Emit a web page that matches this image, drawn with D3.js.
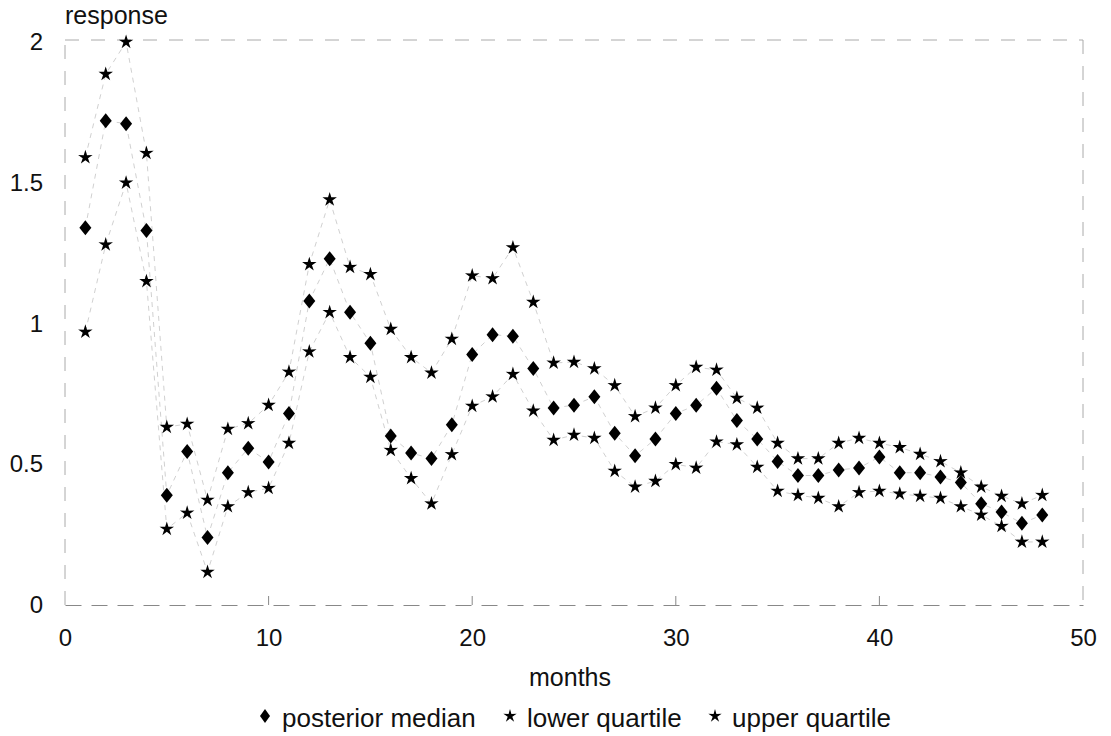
<!DOCTYPE html>
<html>
<head>
<meta charset="utf-8">
<script src="https://cdn.jsdelivr.net/npm/d3@7"></script>
<style>
  body { margin: 0; background: #fff; }
  text { font-family: "Liberation Sans", Arial, sans-serif; fill: #111; }
</style>
</head>
<body>
<div id="chart"></div>
<script>
const months = d3.range(1, 49);
const median = [1.34, 1.72, 1.71, 1.33, 0.39, 0.545, 0.24, 0.47, 0.557, 0.508,
  0.68, 1.08, 1.23, 1.04, 0.93, 0.60, 0.54, 0.52, 0.64, 0.89,
  0.96, 0.955, 0.84, 0.70, 0.71, 0.74, 0.61, 0.53, 0.59, 0.68,
  0.71, 0.77, 0.655, 0.59, 0.51, 0.46, 0.46, 0.48, 0.487, 0.526,
  0.47, 0.47, 0.455, 0.435, 0.36, 0.33, 0.29, 0.32];
const lowerQ = [0.97, 1.28, 1.50, 1.15, 0.27, 0.327, 0.117, 0.35, 0.40, 0.415,
  0.575, 0.90, 1.04, 0.88, 0.81, 0.55, 0.45, 0.36, 0.535, 0.707,
  0.74, 0.82, 0.69, 0.586, 0.604, 0.593, 0.476, 0.42, 0.44, 0.50,
  0.487, 0.58, 0.57, 0.49, 0.405, 0.39, 0.38, 0.35, 0.40, 0.405,
  0.395, 0.387, 0.38, 0.35, 0.32, 0.28, 0.224, 0.224];
const upperQ = [1.59, 1.886, 2.0, 1.605, 0.632, 0.643, 0.373, 0.625, 0.645, 0.71,
  0.828, 1.21, 1.44, 1.20, 1.175, 0.98, 0.88, 0.825, 0.945, 1.17,
  1.16, 1.27, 1.076, 0.86, 0.863, 0.84, 0.78, 0.67, 0.70, 0.78,
  0.845, 0.835, 0.735, 0.70, 0.575, 0.52, 0.52, 0.575, 0.593, 0.575,
  0.56, 0.536, 0.51, 0.47, 0.42, 0.387, 0.36, 0.39];
const xTicks = [0, 10, 20, 30, 40, 50];
const yTicks = [0, 0.5, 1, 1.5, 2];
const legendLabels = ["posterior median", "lower quartile", "upper quartile"];

const width = 1111, height = 736;
const margin = { top: 42, right: 28, bottom: 131, left: 65 };
const fontSize = '24px';

const x = d3.scaleLinear().domain([0, 50]).range([margin.left, width - margin.right]);
const y = d3.scaleLinear().domain([0, 2]).range([height - margin.bottom, margin.top]);

const svg = d3.select('#chart').append('svg')
  .attr('width', width)
  .attr('height', height);

// star and diamond glyphs
function starPath(R, r) {
  const pts = d3.range(10).map(i => {
    const a = -Math.PI / 2 + i * Math.PI / 5;
    const rad = i % 2 ? r : R;
    return [rad * Math.cos(a), rad * Math.sin(a)];
  });
  return 'M' + pts.join('L') + 'Z';
}
function diamondPath(w, h) {
  return `M0,${-h}L${w},0L0,${h}L${-w},0Z`;
}

// dashed frame
const x0 = x(0), x1 = x(50), y0 = y(0), y1 = y(2) - 2;
svg.append('path')
  .attr('d', `M${x0},${y0}L${x0},${y1}M${x0},${y1}L${x1},${y1}M${x1},${y1}L${x1},${y0}`)
  .attr('fill', 'none')
  .attr('stroke', '#aaa')
  .attr('stroke-width', 1)
  .attr('stroke-dasharray', '14,12');

// x axis line with inward ticks
const xAxis = d3.axisBottom(x).tickValues(xTicks).tickSize(0).tickPadding(24);
const gx = svg.append('g').attr('transform', `translate(0,${y0})`).call(xAxis);
gx.select('.domain').attr('stroke', '#888').attr('stroke-dasharray', '16,10');
gx.selectAll('text').style('font-size', fontSize).attr('fill', '#111');
svg.selectAll('.xtick').data(xTicks.slice(1, -1)).join('line')
  .attr('x1', d => x(d)).attr('x2', d => x(d))
  .attr('y1', y0).attr('y2', y0 - 9)
  .attr('stroke', '#888');

// y axis labels
const yAxis = d3.axisLeft(y).tickValues(yTicks).tickSize(0).tickPadding(22)
  .tickFormat(d3.format('~g'));
const gy = svg.append('g').attr('transform', `translate(${x0},0)`).call(yAxis);
gy.select('.domain').remove();
gy.selectAll('text').style('font-size', fontSize).attr('fill', '#111');

svg.append('text')
  .attr('x', x0).attr('y', 24)
  .style('font-size', '25px')
  .text('response');

svg.append('text')
  .attr('x', 570).attr('y', 686)
  .attr('text-anchor', 'middle')
  .style('font-size', '25px')
  .text('months');

// faint connecting lines
const line = d3.line().x((d, i) => x(months[i])).y(d => y(d));
[median, lowerQ, upperQ].forEach(s => {
  svg.append('path')
    .datum(s)
    .attr('d', line)
    .attr('fill', 'none')
    .attr('stroke', '#bbb')
    .attr('stroke-width', 0.7)
    .attr('stroke-dasharray', '5,5');
});

// markers
const star = starPath(7.6, 2.8);
const diamond = diamondPath(6, 7.5);
[lowerQ, upperQ].forEach(s => {
  svg.append('g').selectAll('path').data(s).join('path')
    .attr('transform', (d, i) => `translate(${x(months[i])},${y(d)})`)
    .attr('d', star)
    .attr('fill', '#000');
});
svg.append('g').selectAll('path').data(median).join('path')
  .attr('transform', (d, i) => `translate(${x(months[i])},${y(d)})`)
  .attr('d', diamond)
  .attr('fill', '#000');

// legend
const legendX = [265, 510, 715];
const lg = svg.append('g');
legendLabels.forEach((lab, i) => {
  lg.append('path')
    .attr('transform', `translate(${legendX[i]},${716})`)
    .attr('d', i === 0 ? diamondPath(5, 7) : starPath(7, 2.4))
    .attr('fill', '#000');
  lg.append('text')
    .attr('x', legendX[i] + 17).attr('y', 727)
    .style('font-size', '26px')
    .text(lab);
});
</script>
</body>
</html>
